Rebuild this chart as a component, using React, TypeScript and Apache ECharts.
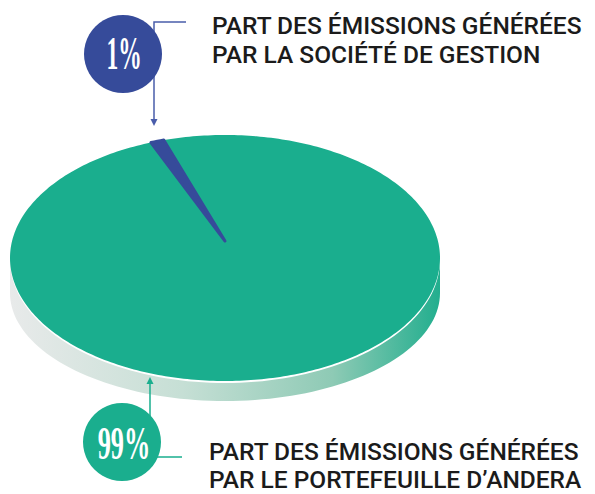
import React, { useEffect, useRef } from "react";
import * as echarts from "echarts";

// ---- data ----
const categories = ["Société de gestion", "Portefeuille d’Andera"];
const shares = [1, 99];
const sliceColors = ["#364b9a", "#1aae8e"];
const calloutLines = [
  ["PART DES ÉMISSIONS GÉNÉRÉES", "PAR LA SOCIÉTÉ DE GESTION"],
  ["PART DES ÉMISSIONS GÉNÉRÉES", "PAR LE PORTEFEUILLE D’ANDERA"],
];

// ---- layout ----
const CX = 225, CY = 258, RX = 215, RY = 123;
const AX = 225, AY = 241; // apex of slices (perspective centre)
const START = -110.15; // degrees, clockwise on screen
const BAND_CY = 293, BAND_RY = 108, GAP = 2;

export default function App() {
  const ref = useRef<HTMLDivElement>(null);
  useEffect(() => {
    if (!ref.current) return;
    const chart = echarts.init(ref.current, null, { renderer: "svg" });
    const total = shares.reduce((a, b) => a + b, 0);

    const upper: number[][] = [];
    const lower: number[][] = [];
    for (let d = 0; d <= 180; d += 2) {
      const p = (d * Math.PI) / 180;
      upper.push([CX + RX * Math.cos(p), CY + RY * Math.sin(p) + GAP]);
    }
    for (let d = 180; d >= 0; d -= 2) {
      const p = (d * Math.PI) / 180;
      lower.push([CX + RX * Math.cos(p), BAND_CY + BAND_RY * Math.sin(p)]);
    }

    const font = "Roboto";
    const serif = "Liberation Serif";
    const blueLine = "#4a5dab";
    const tealLine = "#1aae8e";

    const textEl = (t: string, x: number, y: number) => ({
      type: "text",
      x,
      y,
      z: 20,
      style: {
        text: t,
        fill: "#1b1b1b",
        fontFamily: font,
        fontWeight: 500,
        fontSize: 24.5,
        align: "left",
        verticalAlign: "middle",
      },
    });

    const pctEl = (t: string, x: number, y: number, sx: number) => ({
      type: "text",
      z: 12,
      x,
      y,
      scaleX: sx,
      style: {
        text: t,
        fill: "#ffffff",
        fontFamily: serif,
        fontWeight: "bold",
        fontSize: 47,
        align: "center",
        verticalAlign: "middle",
      },
    });

    const option: any = {
      animation: false,
      graphic: [
        {
          type: "polygon",
          z: 0,
          shape: { points: upper.concat(lower) },
          style: {
            fill: new echarts.graphic.LinearGradient(0, 0, 1, 0, [
              { offset: 0, color: "#e8eaea" },
              { offset: 0.4, color: "#c6dfd5" },
              { offset: 0.75, color: "#8ecab5" },
              { offset: 1, color: "#22ae8e" },
            ]),
          },
        },
        // top callout
        {
          type: "polyline",
          z: 10,
          shape: { points: [[186, 22], [154, 22], [154, 120]] },
          style: { stroke: blueLine, lineWidth: 1.5, fill: null },
        },
        {
          type: "polygon",
          z: 10,
          shape: { points: [[150.5, 119], [157.5, 119], [154, 126]] },
          style: { fill: blueLine },
        },
        {
          type: "circle",
          z: 11,
          shape: { cx: 123, cy: 54, r: 39 },
          style: { fill: sliceColors[0] },
        },
        pctEl(`${shares[0]}%`, 124, 53, 0.5),
        textEl(calloutLines[0][0], 212, 25),
        textEl(calloutLines[0][1], 212, 54),
        // bottom callout
        {
          type: "polyline",
          z: 10,
          shape: { points: [[182, 457], [150, 457], [150, 383]] },
          style: { stroke: tealLine, lineWidth: 1.5, fill: null },
        },
        {
          type: "polygon",
          z: 10,
          shape: { points: [[146.5, 384], [153.5, 384], [150, 377]] },
          style: { fill: tealLine },
        },
        {
          type: "circle",
          z: 11,
          shape: { cx: 122, cy: 442, r: 39 },
          style: { fill: sliceColors[1] },
        },
        pctEl(`${shares[1]}%`, 124, 443, 0.56),
        textEl(calloutLines[1][0], 209, 451),
        textEl(calloutLines[1][1], 209, 479),
      ],
      series: [
        {
          type: "custom",
          coordinateSystem: "none",
          z: 5,
          data: shares.map((v, i) => ({ name: categories[i], value: [v] })),
          renderItem: (params: any, api: any) => {
            const i = params.dataIndex;
            let before = 0;
            for (let k = 0; k < i; k++) before += shares[k];
            const a0 = START + (before / total) * 360;
            const a1 = a0 + (api.value(0) / total) * 360;
            const steps = Math.max(4, Math.ceil(Math.abs(a1 - a0)));
            const pts: number[][] = [[AX, AY]];
            for (let s = 0; s <= steps; s++) {
              const p = ((a0 + ((a1 - a0) * s) / steps) * Math.PI) / 180;
              pts.push([CX + RX * Math.cos(p), CY + RY * Math.sin(p)]);
            }
            const small = api.value(0) / total < 0.05;
            return {
              type: "polygon",
              z2: small ? 10 : 0,
              shape: { points: pts },
              style: small
                ? { fill: sliceColors[i], stroke: sliceColors[i], lineWidth: 3, lineJoin: "round" }
                : { fill: sliceColors[i] },
            };
          },
        },
      ],
    };
    chart.setOption(option);
    return () => chart.dispose();
  }, []);
  return (
    <div
      ref={ref}
      style={{ position: "fixed", left: 0, top: 0, width: 595, height: 494, background: "#fff" }}
    />
  );
}
